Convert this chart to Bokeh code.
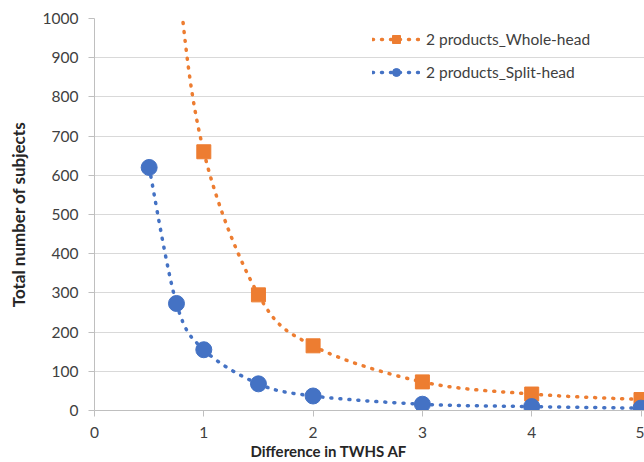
from bokeh.plotting import figure
from bokeh.models import Range1d, FixedTicker, Legend, LegendItem, ColumnDataSource, Title
from bokeh.embed import file_html
from bokeh.resources import INLINE

# ---- data ----
diff_af = [0.5, 0.75, 1, 1.5, 2, 3, 4, 5]
whole_head = [2000, 1150, 660, 295, 165, 73, 42, 28]
split_head = [620, 273, 155, 68, 37, 16, 10, 6]
x_ticks = [0, 1, 2, 3, 4, 5]
y_ticks = [0, 100, 200, 300, 400, 500, 600, 700, 800, 900, 1000]
series_names = ["2 products_Whole-head", "2 products_Split-head"]
x_title = "Difference in TWHS AF"
y_title = "Total number of subjects"

ORANGE = "#ED7D31"
BLUE = "#4472C4"
FONT = "Lato"


def smooth_segments(xs, ys):
    """Bezier segments of a Catmull-Rom style smoothed line (like Excel's smoothed line)."""
    px = [xs[0]] + list(xs) + [xs[-1]]
    py = [ys[0]] + list(ys) + [ys[-1]]
    d = dict(x0=[], y0=[], x1=[], y1=[], cx0=[], cy0=[], cx1=[], cy1=[])
    for i in range(len(xs) - 1):
        a, b, c, e = i, i + 1, i + 2, i + 3
        d["x0"].append(px[b]); d["y0"].append(py[b])
        d["x1"].append(px[c]); d["y1"].append(py[c])
        d["cx0"].append(px[b] + (px[c] - px[a]) / 6.0)
        d["cy0"].append(py[b] + (py[c] - py[a]) / 6.0)
        d["cx1"].append(px[c] - (px[e] - px[b]) / 6.0)
        d["cy1"].append(py[c] - (py[e] - py[b]) / 6.0)
    return ColumnDataSource(d)


p = figure(width=644, height=462,
           x_range=Range1d(0, 5.032), y_range=Range1d(0, 1000),
           output_backend="svg", toolbar_location=None,
           min_border_left=94, min_border_right=0,
           min_border_top=18, min_border_bottom=52)
p.outline_line_color = None
p.background_fill_color = "white"
p.border_fill_color = "white"

# grid
p.xgrid.visible = False
p.ygrid.grid_line_color = "#D9D9D9"
p.ygrid.grid_line_width = 1
p.ygrid.ticker = FixedTicker(ticks=y_ticks)

# axes
for ax in (p.xaxis[0], p.yaxis[0]):
    ax.axis_line_color = "#BFBFBF"
    ax.major_tick_line_color = "#BFBFBF"
    ax.minor_tick_line_color = None
    ax.major_tick_in = 0
    ax.major_label_text_font = FONT
    ax.major_label_text_font_size = "15.5px"
    ax.major_label_text_color = "#404040"
    ax.axis_label_text_font = FONT
    ax.axis_label_text_font_style = "bold"
    ax.axis_label_text_color = "#262626"

p.xaxis.ticker = FixedTicker(ticks=x_ticks)
p.yaxis.ticker = FixedTicker(ticks=y_ticks)
p.xaxis.major_tick_out = 6
p.yaxis.major_tick_out = 6
p.xaxis.major_label_standoff = 10
p.yaxis.major_label_standoff = 10
p.yaxis.axis_label = y_title
p.yaxis.axis_label_text_font_size = "17px"
p.yaxis.axis_label_standoff = 11

# x-axis title: sits left of centre in the reference
xt = Title(text=x_title, align="left", offset=156, standoff=0,
           text_font=FONT, text_font_size="15px", text_font_style="bold",
           text_color="#262626")
try:
    xt.standoff = -1
except Exception:
    xt.standoff = 0
p.add_layout(xt, "below")

line_kw = dict(line_width=3.5, line_dash="1 8", line_cap="round")

r_wh_line = p.bezier("x0", "y0", "x1", "y1", "cx0", "cy0", "cx1", "cy1",
                     source=smooth_segments(diff_af, whole_head),
                     line_color=ORANGE, **line_kw)
r_sh_line = p.bezier("x0", "y0", "x1", "y1", "cx0", "cy0", "cx1", "cy1",
                     source=smooth_segments(diff_af, split_head),
                     line_color=BLUE, **line_kw)
r_wh_pts = p.scatter(diff_af, whole_head, marker="square", size=14,
                     fill_color=ORANGE, line_color=ORANGE)
r_sh_pts = p.scatter(diff_af, split_head, marker="circle", size=16,
                     fill_color=BLUE, line_color=BLUE)

legend = Legend(items=[
    LegendItem(label=series_names[0], renderers=[r_wh_line, r_wh_pts]),
    LegendItem(label=series_names[1], renderers=[r_sh_line, r_sh_pts]),
], location=(278, 328))
legend.margin = 0
legend.padding = 0
legend.spacing = 13
legend.glyph_width = 48
legend.glyph_height = 20
legend.label_height = 20
legend.label_standoff = 6
legend.label_text_font = FONT
legend.label_text_font_size = "15.5px"
legend.label_text_color = "#404040"
legend.background_fill_alpha = 0
legend.border_line_alpha = 0
p.add_layout(legend, "center")

open("out.html", "w").write(file_html(p, INLINE))
